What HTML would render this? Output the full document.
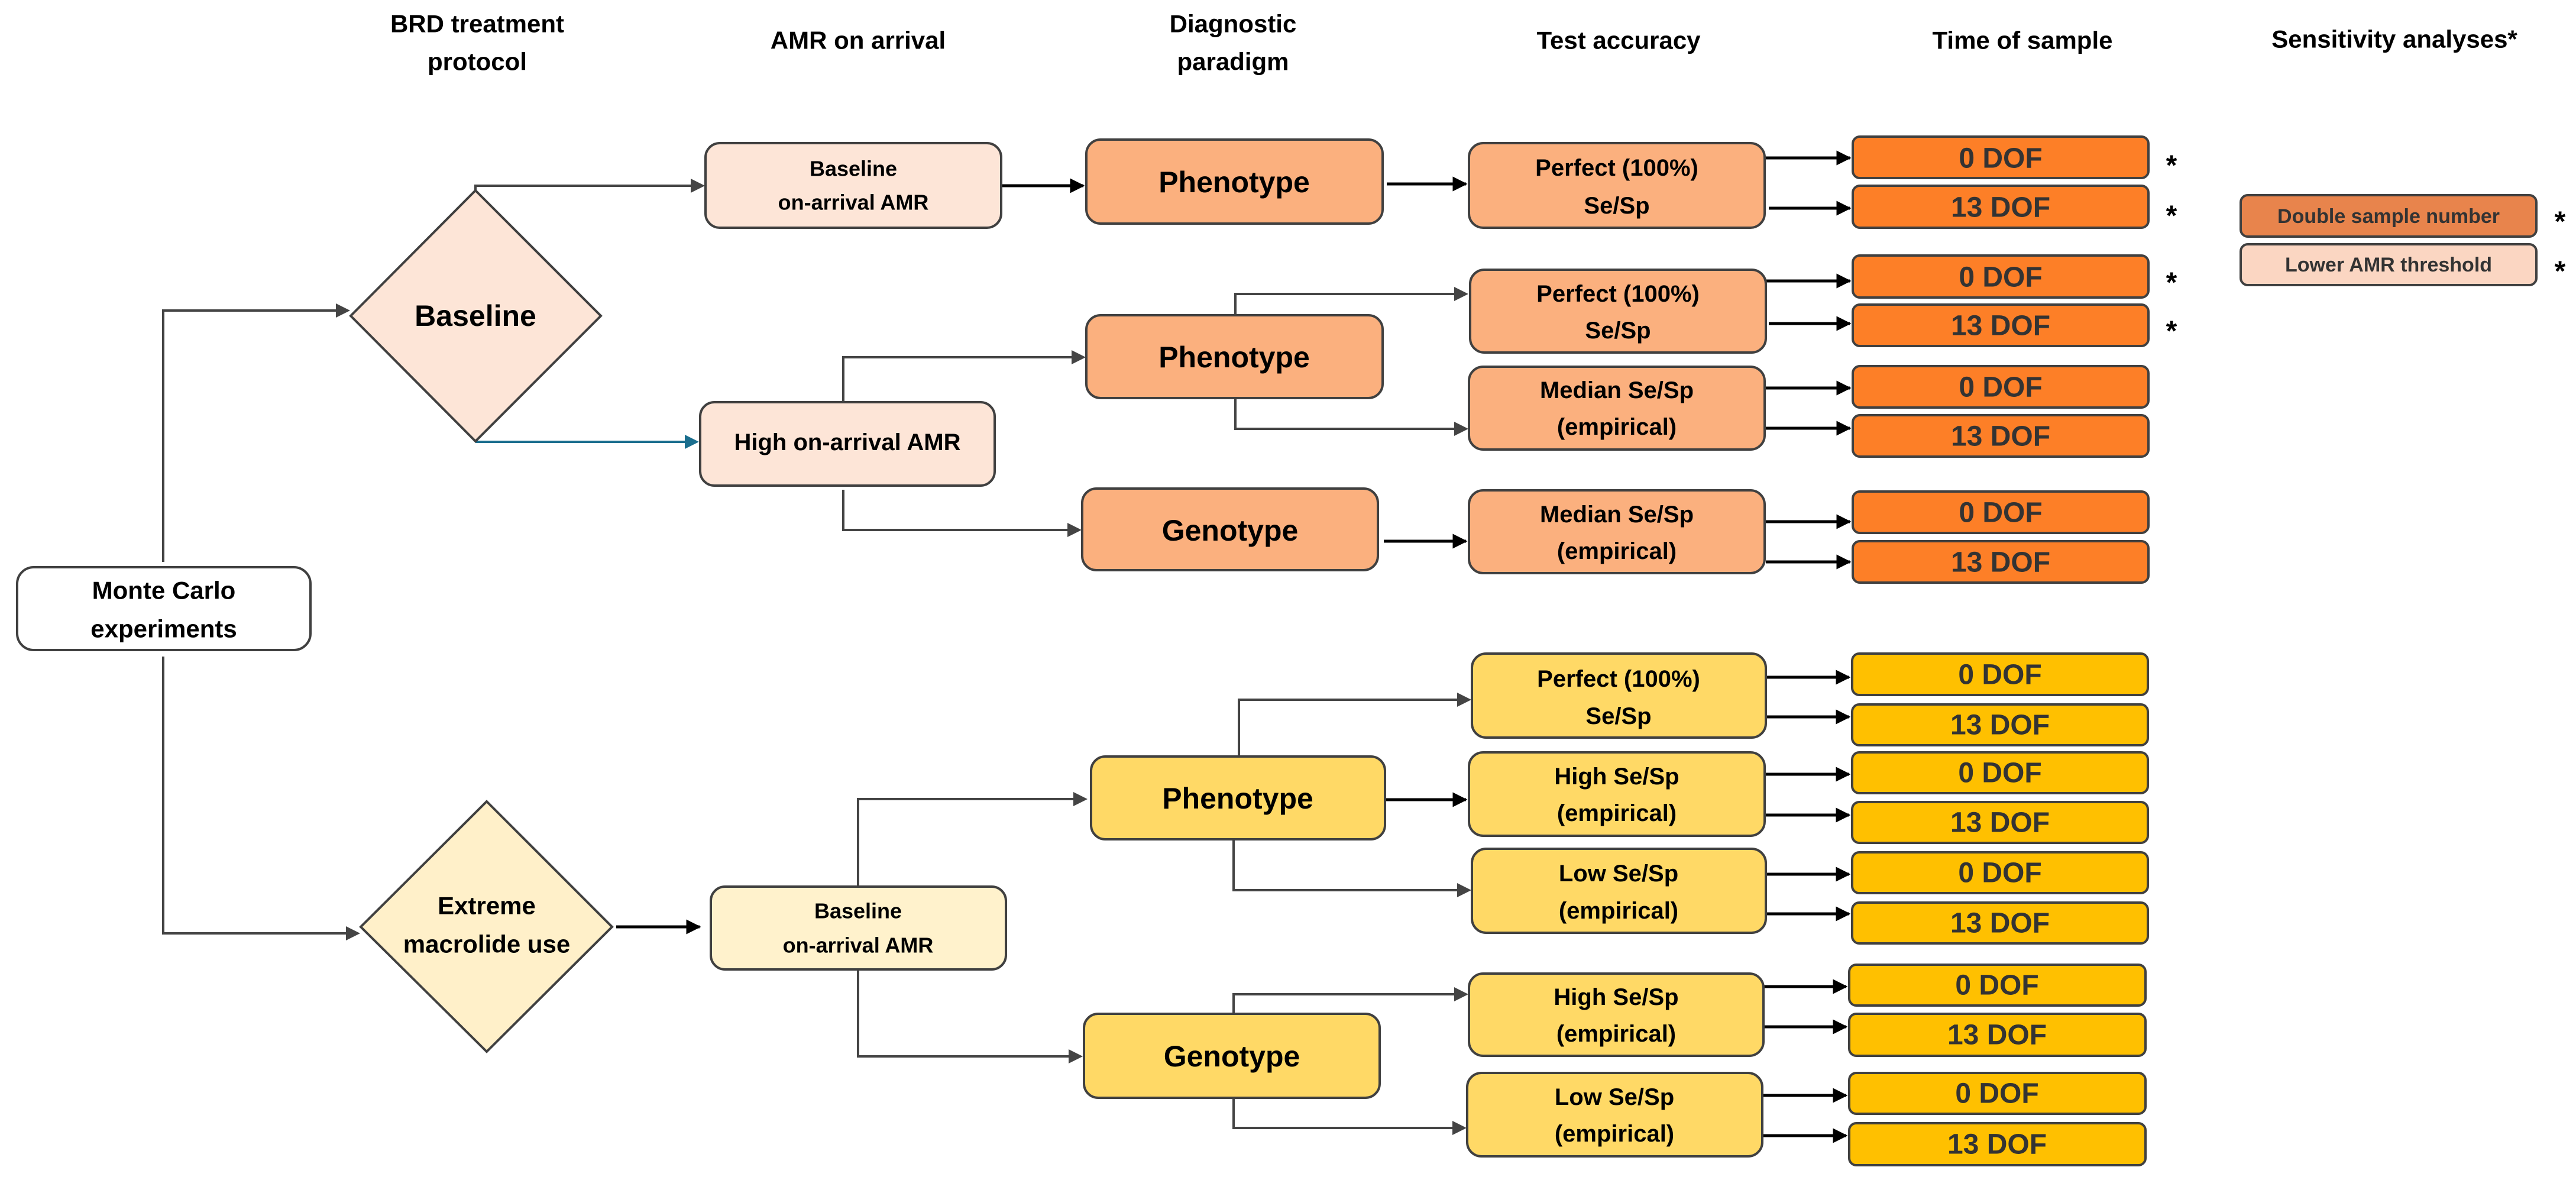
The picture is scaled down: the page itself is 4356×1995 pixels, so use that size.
<!DOCTYPE html>
<html><head><meta charset="utf-8"><style>
html,body{margin:0;padding:0;background:#fff;}
svg{display:block;}
text{font-family:"Liberation Sans",Arial,sans-serif;font-weight:bold;text-anchor:middle;dominant-baseline:central;fill:#000;}
.n{stroke:#404040;stroke-width:4;}
.g{stroke:#444;stroke-width:4;fill:none;}
.k{stroke:#000;stroke-width:5;fill:none;}
.d{fill:#333;}
</style></head><body>
<svg width="4356" height="1995" viewBox="0 0 4356 1995" xmlns="http://www.w3.org/2000/svg">
<defs>
<marker id="ag" markerWidth="6" markerHeight="6" refX="5" refY="3" orient="auto" markerUnits="strokeWidth"><path d="M0,0 L6,3 L0,6 z" fill="#444"/></marker>
<marker id="ak" markerWidth="5" markerHeight="5" refX="4.5" refY="2.5" orient="auto" markerUnits="strokeWidth"><path d="M0,0 L5,2.5 L0,5 z" fill="#000"/></marker>
<marker id="ab" markerWidth="6" markerHeight="6" refX="5" refY="3" orient="auto" markerUnits="strokeWidth"><path d="M0,0 L6,3 L0,6 z" fill="#1a6e8e"/></marker>
</defs>

<!-- headers -->
<g font-size="42">
<text x="807" y="40">BRD treatment</text>
<text x="807" y="104">protocol</text>
<text x="1451" y="68">AMR on arrival</text>
<text x="2085" y="40">Diagnostic</text>
<text x="2085" y="104">paradigm</text>
<text x="2737" y="68">Test accuracy</text>
<text x="3420" y="68">Time of sample</text>
<text x="4049" y="66">Sensitivity analyses*</text>
</g>

<!-- connectors top -->
<path class="g" d="M276,950 V525 H588" marker-end="url(#ag)"/>
<path class="g" d="M276,1110 V1578 H605" marker-end="url(#ag)"/>
<path class="g" d="M804,322 V314 H1188" marker-end="url(#ag)"/>
<path d="M804,747 H1178" stroke="#1a6e8e" stroke-width="4" fill="none" marker-end="url(#ab)"/>
<path class="k" d="M1693,314 H1832" marker-end="url(#ak)"/>
<path class="g" d="M1426,680 V604 H1832" marker-end="url(#ag)"/>
<path class="g" d="M1426,828 V896 H1825" marker-end="url(#ag)"/>
<path class="g" d="M2089,533 V497 H2479" marker-end="url(#ag)"/>
<path class="g" d="M2089,673 V725 H2479" marker-end="url(#ag)"/>
<path class="k" d="M2345,311 H2479" marker-end="url(#ak)"/>
<path class="k" d="M2340,915 H2479" marker-end="url(#ak)"/>
<g class="k">
<path d="M2984,267 H3128" marker-end="url(#ak)"/>
<path d="M2991,352 H3128" marker-end="url(#ak)"/>
<path d="M2986,475 H3128" marker-end="url(#ak)"/>
<path d="M2991,547 H3128" marker-end="url(#ak)"/>
<path d="M2984,656 H3128" marker-end="url(#ak)"/>
<path d="M2986,724 H3128" marker-end="url(#ak)"/>
<path d="M2984,882 H3128" marker-end="url(#ak)"/>
<path d="M2986,950 H3128" marker-end="url(#ak)"/>
</g>

<!-- connectors bottom -->
<path class="k" d="M1042,1567 H1183" marker-end="url(#ak)"/>
<path class="g" d="M1451,1499 V1351 H1835" marker-end="url(#ag)"/>
<path class="g" d="M1451,1639 V1786 H1827" marker-end="url(#ag)"/>
<path class="g" d="M2095,1279 V1183 H2484" marker-end="url(#ag)"/>
<path class="g" d="M2086,1419 V1505 H2484" marker-end="url(#ag)"/>
<path class="g" d="M2086,1714 V1681 H2479" marker-end="url(#ag)"/>
<path class="g" d="M2086,1856 V1907 H2476" marker-end="url(#ag)"/>
<path class="k" d="M2342,1352 H2479" marker-end="url(#ak)"/>
<g class="k">
<path d="M2986,1145 H3127" marker-end="url(#ak)"/>
<path d="M2986,1212 H3127" marker-end="url(#ak)"/>
<path d="M2984,1309 H3127" marker-end="url(#ak)"/>
<path d="M2986,1378 H3127" marker-end="url(#ak)"/>
<path d="M2986,1478 H3127" marker-end="url(#ak)"/>
<path d="M2986,1545 H3127" marker-end="url(#ak)"/>
<path d="M2982,1668 H3122" marker-end="url(#ak)"/>
<path d="M2982,1736 H3122" marker-end="url(#ak)"/>
<path d="M2980,1852 H3122" marker-end="url(#ak)"/>
<path d="M2980,1920 H3122" marker-end="url(#ak)"/>
</g>

<!-- Monte Carlo -->
<rect class="n" x="29" y="959" width="496" height="140" rx="28" fill="#fff"/>
<text x="277" y="998" font-size="42">Monte Carlo</text>
<text x="277" y="1063" font-size="42">experiments</text>

<!-- diamonds -->
<polygon class="n" stroke-width="3" points="804,322 1016,534 804,746 593,534" fill="#fde5d7"/>
<text x="804" y="534" font-size="50">Baseline</text>
<polygon class="n" stroke-width="3" points="823,1355 1035,1567 823,1778 610,1567" fill="#fff0c9"/>
<text x="823" y="1531" font-size="42">Extreme</text>
<text x="823" y="1596" font-size="42">macrolide use</text>

<!-- AMR on arrival -->
<rect class="n" x="1193" y="242" width="500" height="143" rx="24" fill="#fde5d7"/>
<text x="1443" y="285" font-size="36">Baseline</text>
<text x="1443" y="342" font-size="36">on-arrival AMR</text>
<rect class="n" x="1184" y="680" width="498" height="141" rx="24" fill="#fde5d7"/>
<text x="1433" y="748" font-size="40">High on-arrival AMR</text>
<rect class="n" x="1202" y="1499" width="499" height="140" rx="24" fill="#fff2cc"/>
<text x="1451" y="1540" font-size="36">Baseline</text>
<text x="1451" y="1598" font-size="36">on-arrival AMR</text>

<!-- Diagnostic paradigm -->
<g font-size="50">
<rect class="n" x="1837" y="236" width="501" height="142" rx="24" fill="#fbb07e"/>
<text x="2087" y="308">Phenotype</text>
<rect class="n" x="1837" y="533" width="501" height="140" rx="24" fill="#fbb07e"/>
<text x="2087" y="604">Phenotype</text>
<rect class="n" x="1830" y="826" width="500" height="138" rx="24" fill="#fbb07e"/>
<text x="2080" y="897">Genotype</text>
<rect class="n" x="1845" y="1279" width="497" height="140" rx="24" fill="#ffd966"/>
<text x="2093" y="1350">Phenotype</text>
<rect class="n" x="1833" y="1714" width="500" height="142" rx="24" fill="#ffd966"/>
<text x="2083" y="1786">Genotype</text>
</g>

<!-- Test accuracy -->
<g font-size="40">
<rect class="n" x="2484" y="242" width="500" height="143" rx="24" fill="#fbb07e"/>
<text x="2734" y="284">Perfect (100%)</text><text x="2734" y="348">Se/Sp</text>
<rect class="n" x="2486" y="456" width="500" height="140" rx="24" fill="#fbb07e"/>
<text x="2736" y="497">Perfect (100%)</text><text x="2736" y="559">Se/Sp</text>
<rect class="n" x="2484" y="620" width="500" height="140" rx="24" fill="#fbb07e"/>
<text x="2734" y="660">Median Se/Sp</text><text x="2734" y="722">(empirical)</text>
<rect class="n" x="2484" y="829" width="500" height="140" rx="24" fill="#fbb07e"/>
<text x="2734" y="870">Median Se/Sp</text><text x="2734" y="932">(empirical)</text>
<rect class="n" x="2489" y="1105" width="497" height="142" rx="24" fill="#ffd966"/>
<text x="2737" y="1148">Perfect (100%)</text><text x="2737" y="1211">Se/Sp</text>
<rect class="n" x="2484" y="1272" width="500" height="141" rx="24" fill="#ffd966"/>
<text x="2734" y="1313">High Se/Sp</text><text x="2734" y="1375">(empirical)</text>
<rect class="n" x="2489" y="1435" width="497" height="142" rx="24" fill="#ffd966"/>
<text x="2737" y="1477">Low Se/Sp</text><text x="2737" y="1540">(empirical)</text>
<rect class="n" x="2484" y="1646" width="498" height="139" rx="24" fill="#ffd966"/>
<text x="2733" y="1686">High Se/Sp</text><text x="2733" y="1748">(empirical)</text>
<rect class="n" x="2481" y="1814" width="499" height="141" rx="24" fill="#ffd966"/>
<text x="2730" y="1855">Low Se/Sp</text><text x="2730" y="1917">(empirical)</text>
</g>

<!-- DOF boxes -->
<g font-size="48">
<g fill="#fd7f27">
<rect class="n" x="3133" y="231" width="500" height="70" rx="12"/>
<rect class="n" x="3133" y="314" width="500" height="71" rx="12"/>
<rect class="n" x="3133" y="432" width="500" height="71" rx="12"/>
<rect class="n" x="3133" y="515" width="500" height="70" rx="12"/>
<rect class="n" x="3133" y="619" width="500" height="70" rx="12"/>
<rect class="n" x="3133" y="702" width="500" height="70" rx="12"/>
<rect class="n" x="3133" y="831" width="500" height="70" rx="12"/>
<rect class="n" x="3133" y="915" width="500" height="70" rx="12"/>
</g>
<g fill="#ffc000">
<rect class="n" x="3132" y="1105" width="500" height="70" rx="12"/>
<rect class="n" x="3132" y="1191" width="500" height="69" rx="12"/>
<rect class="n" x="3132" y="1272" width="500" height="69" rx="12"/>
<rect class="n" x="3132" y="1356" width="500" height="69" rx="12"/>
<rect class="n" x="3132" y="1441" width="500" height="69" rx="12"/>
<rect class="n" x="3132" y="1526" width="500" height="69" rx="12"/>
<rect class="n" x="3127" y="1631" width="501" height="69" rx="12"/>
<rect class="n" x="3127" y="1714" width="501" height="71" rx="12"/>
<rect class="n" x="3127" y="1814" width="501" height="69" rx="12"/>
<rect class="n" x="3127" y="1899" width="501" height="71" rx="12"/>
</g>
<g class="d">
<text class="d" x="3383" y="268">0 DOF</text>
<text class="d" x="3383" y="351">13 DOF</text>
<text class="d" x="3383" y="469">0 DOF</text>
<text class="d" x="3383" y="551">13 DOF</text>
<text class="d" x="3383" y="655">0 DOF</text>
<text class="d" x="3383" y="738">13 DOF</text>
<text class="d" x="3383" y="867">0 DOF</text>
<text class="d" x="3383" y="951">13 DOF</text>
<text class="d" x="3382" y="1141">0 DOF</text>
<text class="d" x="3382" y="1226">13 DOF</text>
<text class="d" x="3382" y="1307">0 DOF</text>
<text class="d" x="3382" y="1391">13 DOF</text>
<text class="d" x="3382" y="1476">0 DOF</text>
<text class="d" x="3382" y="1561">13 DOF</text>
<text class="d" x="3377" y="1666">0 DOF</text>
<text class="d" x="3377" y="1750">13 DOF</text>
<text class="d" x="3377" y="1849">0 DOF</text>
<text class="d" x="3377" y="1935">13 DOF</text>
</g>
</g>

<!-- asterisks -->
<g font-size="48">
<text x="3672" y="280">*</text>
<text x="3672" y="365">*</text>
<text x="3672" y="478">*</text>
<text x="3672" y="560">*</text>
<text x="4329" y="375">*</text>
<text x="4329" y="459">*</text>
</g>

<!-- sensitivity -->
<rect class="n" x="3789" y="330" width="500" height="70" rx="12" fill="#e8844c"/>
<text class="d" x="4039" y="366" font-size="34">Double sample number</text>
<rect class="n" x="3789" y="413" width="500" height="69" rx="12" fill="#fbd6c2"/>
<text class="d" x="4039" y="448" font-size="34">Lower AMR threshold</text>
</svg>
</body></html>
